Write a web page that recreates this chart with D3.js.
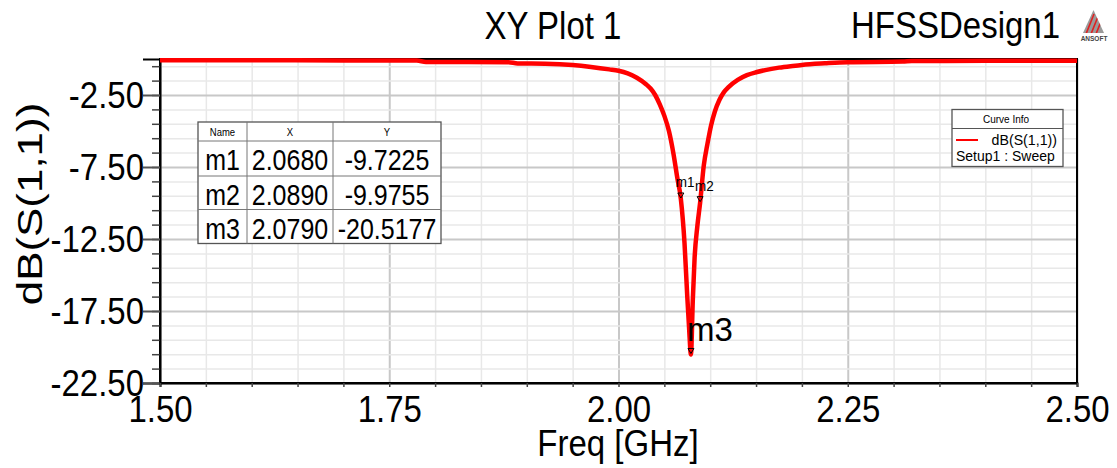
<!DOCTYPE html>
<html>
<head>
<meta charset="utf-8">
<script src="https://cdn.jsdelivr.net/npm/d3@7"></script>
<style>
  html, body { margin: 0; padding: 0; background: #fff; }
  svg { display: block; font-family: "Liberation Sans", Arial, sans-serif; }
</style>
</head>
<body>
<svg id="chart" width="1117" height="468"></svg>
<script>
// ---- data ----
const freq = [1.50, 1.60, 1.70, 1.78, 1.79, 1.88, 1.89, 1.92, 1.95, 1.97, 1.99, 2.00, 2.01, 2.02, 2.03, 2.035, 2.04, 2.045, 2.05, 2.055, 2.06, 2.064, 2.068, 2.072, 2.075, 2.077, 2.079, 2.081, 2.083, 2.086, 2.089, 2.093, 2.097, 2.101, 2.105, 2.11, 2.115, 2.12, 2.13, 2.14, 2.15, 2.16, 2.175, 2.19, 2.20, 2.225, 2.25, 2.31, 2.32, 2.40, 2.50];
const s11 = [-0.09, -0.09, -0.10, -0.11, -0.20, -0.22, -0.31, -0.33, -0.42, -0.55, -0.72, -0.82, -1.00, -1.30, -1.75, -2.05, -2.50, -3.15, -3.95, -5.00, -6.60, -8.20, -9.72, -12.80, -16.50, -18.70, -20.52, -16.80, -13.80, -11.60, -9.98, -7.40, -5.90, -4.60, -3.66, -2.85, -2.30, -1.95, -1.45, -1.12, -0.92, -0.77, -0.60, -0.48, -0.41, -0.30, -0.22, -0.18, -0.14, -0.13, -0.13];

const xTickValues = [1.50, 1.75, 2.00, 2.25, 2.50];
const xTickLabels = ['1.50', '1.75', '2.00', '2.25', '2.50'];
const yTickValues = [-22.5, -17.5, -12.5, -7.5, -2.5];
const yTickLabels = ['-22.50', '-17.50', '-12.50', '-7.50', '-2.50'];

const markerNames = ['m1', 'm2', 'm3'];
const markerX = [2.0680, 2.0890, 2.0790];
const markerY = [-9.7225, -9.9755, -20.5177];
const markerXText = ['2.0680', '2.0890', '2.0790'];
const markerYText = ['-9.7225', '-9.9755', '-20.5177'];

const titleText = 'XY Plot 1';
const designText = 'HFSSDesign1';
const xLabel = 'Freq [GHz]';
const yLabel = 'dB(S(1,1))';
const legendTitle = 'Curve Info';
const legendLine1 = 'dB(S(1,1))';
const legendLine2 = 'Setup1 : Sweep';

// ---- layout ----
const L = 160, R = 1077, T = 59, B = 383;
const svg = d3.select('#chart');
const x = d3.scaleLinear().domain([1.5, 2.5]).range([L, R]);
const y = d3.scaleLinear().domain([-22.5, 0]).range([B, T]);

function txt(g, px, py, str, size, anchor, k) {
  return g.append('text')
    .attr('transform', `translate(${px},${py}) scale(1,${k})`)
    .attr('text-anchor', anchor)
    .style('font-size', size + 'px')
    .attr('fill', '#000')
    .text(str);
}

// grid
const xMinor = d3.range(0, 21).map(i => 1.5 + i * 0.05);
const yMinor = d3.range(0, 23).map(i => -22.5 + i);
const isMajorX = v => Math.abs((v - 1.5) / 0.25 - Math.round((v - 1.5) / 0.25)) < 1e-6;
const isMajorY = v => Math.abs((v + 22.5) / 5 - Math.round((v + 22.5) / 5)) < 1e-6;

const grid = svg.append('g');
grid.append('g').attr('transform', `translate(0,${B})`)
  .call(d3.axisBottom(x).tickValues(xMinor).tickSize(-(B - T)).tickFormat(''))
  .call(g => g.select('.domain').remove())
  .call(g => g.selectAll('line')
    .attr('stroke', d => isMajorX(d) ? '#c8c8c8' : '#e8e8e8')
    .attr('stroke-width', d => isMajorX(d) ? 2 : 1.5));
grid.append('g').attr('transform', `translate(${L},0)`)
  .call(d3.axisLeft(y).tickValues(yMinor).tickSize(-(R - L)).tickFormat(''))
  .call(g => g.select('.domain').remove())
  .call(g => g.selectAll('line')
    .attr('stroke', d => isMajorY(d) ? '#c8c8c8' : '#e8e8e8')
    .attr('stroke-width', d => isMajorY(d) ? 2 : 1.5));

// border
svg.append('rect').attr('x', L).attr('y', T).attr('width', R - L).attr('height', B - T)
  .attr('fill', 'none').attr('stroke', '#000').attr('stroke-width', 2);

// y axis ticks
svg.append('g').attr('transform', `translate(${L},0)`)
  .call(d3.axisLeft(y).tickValues(yMinor).tickSize(8).tickFormat(''))
  .call(g => g.select('.domain').remove())
  .call(g => g.selectAll('line').attr('stroke', '#444').attr('stroke-width', 1.5));
const yAx = svg.append('g').attr('transform', `translate(${L},0)`)
  .call(d3.axisLeft(y).tickValues(yTickValues).tickSize(17).tickPadding(11)
    .tickFormat((d, i) => yTickLabels[i]))
  .call(g => g.select('.domain').attr('stroke', '#000').attr('stroke-width', 2))
  .call(g => g.selectAll('line').attr('stroke', '#555').attr('stroke-width', 2));
yAx.selectAll('text').attr('dy', null)
  .attr('transform', 'translate(-16,12.5) scale(1,1.1)')
  .attr('x', 0)
  .style('font-size', '33px').style('font-family', '"Liberation Sans", Arial, sans-serif').attr('fill', '#000');

// x axis ticks
svg.append('g').attr('transform', `translate(0,${B})`)
  .call(d3.axisBottom(x).tickValues(xMinor).tickSize(4).tickFormat(''))
  .call(g => g.select('.domain').attr('stroke', '#000').attr('stroke-width', 2))
  .call(g => g.selectAll('line').attr('stroke', '#444').attr('stroke-width', 1.5));
const xAx = svg.append('g').attr('transform', `translate(0,${B})`)
  .call(d3.axisBottom(x).tickValues(xTickValues).tickSize(0).tickFormat((d, i) => xTickLabels[i]))
  .call(g => g.select('.domain').remove());
xAx.selectAll('text').attr('dy', null).attr('y', 0)
  .attr('transform', 'translate(0,39) scale(1,1.1)')
  .style('font-size', '33px').style('font-family', '"Liberation Sans", Arial, sans-serif').attr('fill', '#000');

// curve
const pts = freq.map((f, i) => [f, s11[i]]);
svg.append('path').datum(pts)
  .attr('fill', 'none').attr('stroke', '#ff0000').attr('stroke-width', 4.5)
  .attr('stroke-linejoin', 'round')
  .attr('d', d3.line().x(d => x(d[0])).y(d => y(d[1])).curve(d3.curveMonotoneX));

// markers
const mk = svg.append('g');
markerNames.forEach((n, i) => {
  const px = x(markerX[i]), py = y(markerY[i]);
  mk.append('path')
    .attr('d', `M${px - 3},${py - 6} L${px + 3},${py - 6} L${px},${py - 1} Z`)
    .attr('fill', 'none').attr('stroke', '#000').attr('stroke-width', 1);
  if (i < 2) txt(mk, px - 5, py - 12, n, 13.5, 'start', 1.1);
  else txt(mk, px - 4, py - 13, n, 33, 'start', 1.0);
});

// titles
txt(svg, 553, 39, titleText, 33, 'middle', 1.15);
txt(svg, 1060, 38, designText, 33, 'end', 1.1);
txt(svg, 618, 456, xLabel, 33, 'middle', 1.1);
svg.append('text')
  .attr('transform', `translate(42,204) rotate(-90) scale(1.22,0.95)`)
  .attr('text-anchor', 'middle').style('font-size', '36px').text(yLabel);

// logo
const lg = svg.append('g');
lg.append('clipPath').attr('id', 'tri').append('path').attr('d', 'M1083,33 L1093.5,10 L1104,33 Z');
lg.append('path').attr('d', 'M1083,33 L1093.5,10 L1104,33 Z').attr('fill', '#9a9a9a');
const lgs = lg.append('g').attr('clip-path', 'url(#tri)');
[0, 5, 10].forEach(o => {
  lgs.append('line').attr('x1', 1086 + o).attr('y1', 34).attr('x2', 1094 + o).attr('y2', 14)
    .attr('stroke', '#e02020').attr('stroke-width', 1.6);
});
lg.append('text').attr('x', 1094).attr('y', 40.5).attr('text-anchor', 'middle')
  .style('font-size', '6.5px').style('font-weight', 'bold').attr('fill', '#444').text('ANSOFT');

// marker table
const tb = svg.append('g');
const tX = [198, 247, 333, 441];
const tY = [122, 141, 176, 209.5, 243.5];
tb.append('rect').attr('x', tX[0]).attr('y', tY[0]).attr('width', tX[3] - tX[0]).attr('height', tY[4] - tY[0])
  .attr('fill', '#fff').attr('stroke', '#555').attr('stroke-width', 1.3);
[1, 2].forEach(c => tb.append('line').attr('x1', tX[c]).attr('x2', tX[c]).attr('y1', tY[0]).attr('y2', tY[4]).attr('stroke', '#777').attr('stroke-width', 1));
[1, 2, 3].forEach(r => tb.append('line').attr('y1', tY[r]).attr('y2', tY[r]).attr('x1', tX[0]).attr('x2', tX[3]).attr('stroke', '#777').attr('stroke-width', 1));
const cx = c => (tX[c] + tX[c + 1]) / 2;
txt(tb, cx(0), 136, 'Name', 9.5, 'middle', 1.1);
txt(tb, cx(1), 136, 'X', 9.5, 'middle', 1.1);
txt(tb, cx(2), 136, 'Y', 9.5, 'middle', 1.1);
markerNames.forEach((n, i) => {
  const by = tY[i + 1] + 29;
  txt(tb, cx(0), by, n, 25, 'middle', 1.18);
  txt(tb, cx(1), by, markerXText[i], 25, 'middle', 1.18);
  txt(tb, cx(2), by, markerYText[i], 25, 'middle', 1.18);
});

// legend
const lgd = svg.append('g');
lgd.append('rect').attr('x', 952).attr('y', 109.5).attr('width', 111).attr('height', 57)
  .attr('fill', '#fff').attr('stroke', '#555').attr('stroke-width', 1.3);
lgd.append('line').attr('x1', 952).attr('x2', 1063).attr('y1', 128.5).attr('y2', 128.5).attr('stroke', '#555').attr('stroke-width', 1);
txt(lgd, 1006, 123, legendTitle, 10, 'middle', 1.1);
lgd.append('line').attr('x1', 956).attr('x2', 978).attr('y1', 140).attr('y2', 140).attr('stroke', '#ff0000').attr('stroke-width', 2);
txt(lgd, 1057, 145, legendLine1, 14.2, 'end', 1.05);
txt(lgd, 956, 161, legendLine2, 14.0, 'start', 1.05);
</script>
</body>
</html>
